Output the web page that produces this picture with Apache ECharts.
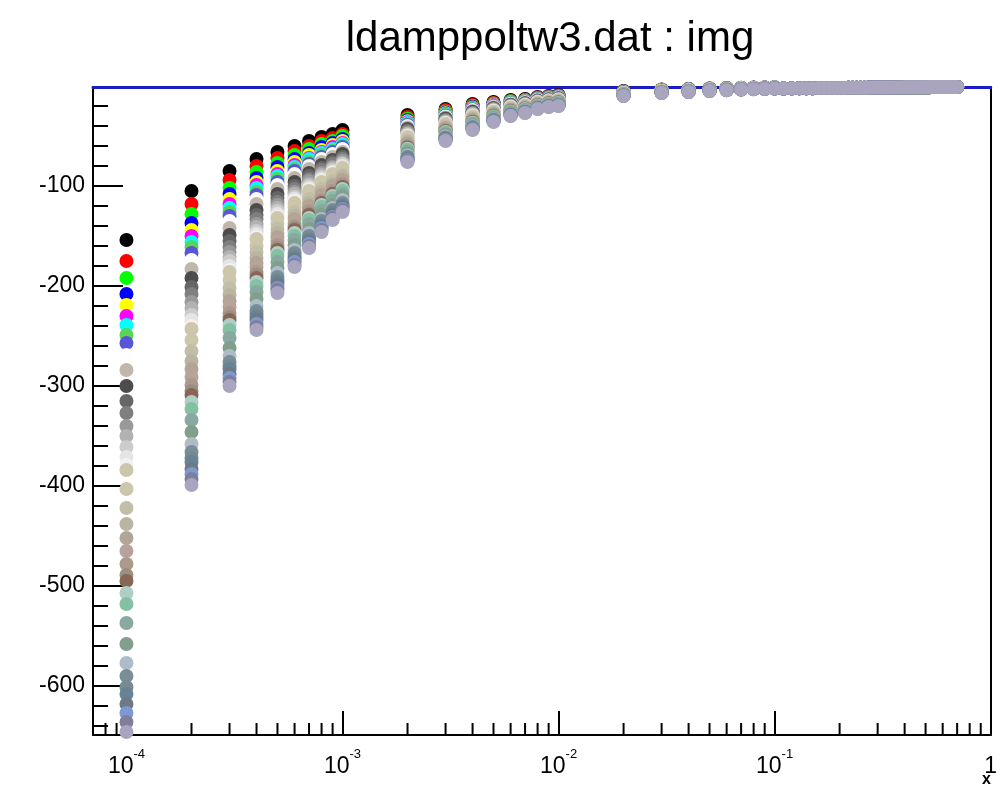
<!DOCTYPE html>
<html>
<head>
<meta charset="utf-8">
<script src="https://cdn.jsdelivr.net/npm/echarts@6/dist/echarts.min.js"></script>
<style>
  html, body { margin: 0; padding: 0; background: #fff; }
  #chart { width: 1000px; height: 796px; }
</style>
</head>
<body>
<div id="chart"></div>
<script>
// x positions of the sampled points (per-curve values below follow this order)
const xColumns = [1e-4, 2e-4, 3e-4, 4e-4, 5e-4, 6e-4, 7e-4, 8e-4, 9e-4,
  1e-3, 2e-3, 3e-3, 4e-3, 5e-3, 6e-3, 7e-3, 8e-3, 9e-3,
  1e-2, 0.02, 0.03, 0.04, 0.05, 0.06, 0.07, 0.08, 0.09, 0.1];

// img values of the 40 curves at xColumns
const s01 = [-154, -105, -85, -73, -66, -60, -55, -51, -48, -44, -29, -23, -18, -16, -14, -13, -11, -10, -9, -5, -3.5, -3, -2.5, -2, -1.8, -1.6, -1.4, -1.3];
const s02 = [-175, -118, -94, -80, -72, -65, -60, -55, -52, -48, -31, -24, -19, -17, -15, -14, -11.5, -10.5, -9.5, -5.2, -3.7, -3.1, -2.6, -2.1, -1.9, -1.7, -1.5, -1.4];
const s03 = [-192, -128, -102, -86, -77, -69, -63, -58, -55, -50, -32.7, -25.5, -20, -17.6, -15.2, -14.1, -11.9, -10.9, -9.9, -5.4, -3.8, -3.2, -2.7, -2.2, -1.9, -1.7, -1.5, -1.4];
const s04 = [-208, -137, -108, -92, -81, -73, -67, -61, -57, -53, -34.1, -26.5, -20.8, -18.2, -15.7, -14.5, -12.3, -11.2, -10.2, -5.6, -3.9, -3.3, -2.8, -2.2, -2, -1.8, -1.6, -1.4];
const s05 = [-219, -144, -113, -96, -85, -76, -69, -64, -59, -55, -35.2, -27.2, -21.4, -18.6, -16.1, -14.8, -12.6, -11.5, -10.5, -5.7, -4, -3.4, -2.8, -2.3, -2, -1.8, -1.6, -1.5];
const s06 = [-230, -150, -118, -99, -88, -79, -72, -66, -61, -57, -36.2, -27.9, -22, -19.1, -16.5, -15.2, -12.8, -11.7, -10.7, -5.8, -4, -3.5, -2.9, -2.3, -2.1, -1.8, -1.6, -1.5];
const s07 = [-239, -156, -122, -102, -90, -81, -73, -67, -63, -58, -37.1, -28.5, -22.5, -19.4, -16.8, -15.4, -13.1, -11.9, -10.9, -5.9, -4.1, -3.5, -2.9, -2.4, -2.1, -1.9, -1.7, -1.5];
const s08 = [-249, -161, -126, -106, -93, -83, -76, -69, -65, -60, -38, -29.1, -23, -19.8, -17.1, -15.7, -13.3, -12.1, -11.1, -6, -4.2, -3.6, -3, -2.4, -2.2, -1.9, -1.7, -1.6];
const s09 = [-257, -167, -130, -109, -96, -85, -78, -71, -66, -61, -38.9, -29.7, -23.5, -20.2, -17.4, -15.9, -13.5, -12.3, -11.3, -6.1, -4.2, -3.6, -3, -2.5, -2.2, -1.9, -1.7, -1.6];
const s10 = [-269, -174, -135, -113, -99, -88, -80, -73, -68, -63, -40, -30.5, -24.1, -20.7, -17.7, -16.3, -13.8, -12.6, -11.6, -6.2, -4.3, -3.7, -3.1, -2.5, -2.2, -2, -1.8, -1.6];
const s11 = [-284, -183, -142, -118, -103, -92, -83, -76, -71, -66, -41.5, -31.5, -24.9, -21.3, -18.2, -16.7, -14.2, -12.9, -11.9, -6.3, -4.4, -3.8, -3.2, -2.6, -2.3, -2, -1.8, -1.6];
const s12 = [-300, -192, -149, -124, -108, -96, -87, -79, -74, -68, -43, -32.5, -25.7, -21.9, -18.8, -17.2, -14.6, -13.3, -12.3, -6.5, -4.5, -3.9, -3.2, -2.6, -2.3, -2.1, -1.9, -1.7];
const s13 = [-315, -201, -155, -129, -112, -100, -90, -82, -76, -71, -44.4, -33.5, -26.5, -22.5, -19.2, -17.6, -14.9, -13.6, -12.6, -6.6, -4.6, -4, -3.3, -2.7, -2.4, -2.1, -1.9, -1.7];
const s14 = [-327, -208, -161, -133, -116, -103, -93, -84, -78, -73, -45.5, -34.2, -27.1, -23, -19.6, -17.9, -15.2, -13.9, -12.9, -6.8, -4.7, -4.1, -3.4, -2.8, -2.4, -2.2, -1.9, -1.8];
const s15 = [-340, -216, -166, -138, -119, -106, -95, -87, -81, -75, -46.8, -35.1, -27.8, -23.6, -20, -18.3, -15.5, -14.2, -13.2, -6.9, -4.8, -4.1, -3.5, -2.8, -2.5, -2.2, -2, -1.8];
const s16 = [-350, -222, -171, -141, -122, -108, -98, -89, -82, -77, -47.7, -35.7, -28.3, -24, -20.4, -18.6, -15.8, -14.4, -13.4, -7, -4.9, -4.2, -3.5, -2.9, -2.5, -2.2, -2, -1.8];
const s17 = [-361, -229, -175, -145, -125, -111, -100, -91, -84, -78, -48.7, -36.4, -28.9, -24.4, -20.7, -18.9, -16, -14.6, -13.6, -7.1, -5, -4.3, -3.6, -2.9, -2.6, -2.3, -2, -1.9];
const s18 = [-371, -234, -180, -148, -128, -113, -102, -93, -86, -80, -49.7, -37.1, -29.4, -24.8, -21, -19.2, -16.3, -14.8, -13.8, -7.2, -5, -4.3, -3.6, -3, -2.6, -2.3, -2.1, -1.9];
const s19 = [-379, -240, -184, -151, -131, -115, -104, -95, -87, -82, -50.5, -37.7, -29.9, -25.2, -21.3, -19.4, -16.5, -15, -14, -7.3, -5.1, -4.4, -3.7, -3, -2.6, -2.3, -2.1, -1.9];
const s20 = [-384, -243, -186, -153, -132, -117, -105, -96, -88, -82, -51, -38, -30.2, -25.4, -21.5, -19.6, -16.6, -15.1, -14.1, -7.3, -5.1, -4.4, -3.7, -3, -2.6, -2.4, -2.1, -1.9];
const s21 = [-403, -254, -194, -160, -138, -121, -109, -99, -92, -86, -52.8, -39.2, -31.2, -26.1, -22.1, -20.1, -17.1, -15.6, -14.6, -7.5, -5.3, -4.5, -3.8, -3.1, -2.7, -2.4, -2.2, -2];
const s22 = [-422, -265, -202, -166, -143, -126, -113, -103, -95, -89, -54.6, -40.4, -32.2, -26.9, -22.7, -20.6, -17.5, -16, -15, -7.7, -5.4, -4.6, -3.9, -3.2, -2.8, -2.5, -2.2, -2];
const s23 = [-438, -275, -209, -172, -147, -130, -117, -106, -98, -91, -56.1, -41.5, -33, -27.5, -23.2, -21.1, -17.9, -16.3, -15.3, -7.9, -5.5, -4.7, -3.9, -3.3, -2.8, -2.5, -2.3, -2.1];
const s24 = [-452, -283, -215, -177, -151, -133, -120, -109, -100, -94, -57.4, -42.4, -33.7, -28.1, -23.7, -21.5, -18.3, -16.7, -15.7, -8, -5.6, -4.8, -4, -3.3, -2.9, -2.6, -2.3, -2.1];
const s25 = [-465, -291, -221, -181, -155, -137, -123, -111, -102, -96, -58.8, -43.3, -34.5, -28.7, -24.1, -21.9, -18.6, -17, -16, -8.2, -5.7, -4.9, -4.1, -3.4, -2.9, -2.6, -2.4, -2.1];
const s26 = [-478, -299, -227, -186, -159, -140, -125, -114, -105, -98, -59.9, -44.1, -35.1, -29.2, -24.5, -22.2, -18.9, -17.2, -16.2, -8.3, -5.8, -5, -4.2, -3.5, -3, -2.7, -2.4, -2.2];
const s27 = [-489, -305, -231, -189, -162, -142, -128, -116, -107, -100, -61, -44.8, -35.7, -29.6, -24.9, -22.5, -19.2, -17.5, -16.5, -8.4, -5.9, -5, -4.2, -3.5, -3, -2.7, -2.4, -2.2];
const s28 = [-495, -309, -234, -192, -164, -144, -129, -117, -108, -101, -61.6, -45.2, -36, -29.9, -25.1, -22.7, -19.3, -17.6, -16.6, -8.5, -5.9, -5.1, -4.2, -3.5, -3.1, -2.7, -2.4, -2.2];
const s29 = [-507, -316, -239, -196, -167, -147, -132, -119, -110, -103, -62.7, -46, -36.7, -30.4, -25.5, -23.1, -19.6, -17.9, -16.9, -8.6, -6, -5.2, -4.3, -3.6, -3.1, -2.8, -2.5, -2.2];
const s30 = [-518, -323, -244, -200, -170, -150, -134, -121, -112, -105, -63.8, -46.7, -37.2, -30.8, -25.8, -23.4, -19.9, -18.1, -17.1, -8.7, -6.1, -5.2, -4.4, -3.6, -3.1, -2.8, -2.5, -2.3];
const s31 = [-537, -334, -252, -206, -176, -154, -138, -125, -115, -108, -65.6, -47.9, -38.2, -31.6, -26.4, -23.9, -20.3, -18.6, -17.6, -8.9, -6.2, -5.3, -4.5, -3.7, -3.2, -2.8, -2.6, -2.3];
const s32 = [-558, -346, -262, -213, -182, -159, -143, -129, -119, -111, -67.6, -49.3, -39.3, -32.4, -27.1, -24.5, -20.9, -19, -18, -9.1, -6.4, -5.5, -4.6, -3.8, -3.3, -2.9, -2.6, -2.4];
const s33 = [-577, -358, -270, -220, -187, -164, -147, -133, -122, -114, -69.4, -50.5, -40.3, -33.2, -27.7, -25, -21.3, -19.4, -18.4, -9.3, -6.5, -5.6, -4.7, -3.9, -3.4, -3, -2.7, -2.4];
const s34 = [-590, -366, -276, -225, -191, -167, -150, -135, -124, -117, -70.7, -51.4, -41.1, -33.7, -28.2, -25.4, -21.6, -19.8, -18.8, -9.4, -6.6, -5.7, -4.7, -4, -3.4, -3, -2.7, -2.5];
const s35 = [-601, -372, -280, -228, -194, -170, -152, -137, -126, -119, -71.7, -52.1, -41.6, -34.2, -28.5, -25.7, -21.9, -20, -19, -9.6, -6.7, -5.7, -4.8, -4, -3.4, -3.1, -2.8, -2.5];
const s36 = [-608, -376, -283, -231, -196, -172, -154, -139, -127, -120, -72.4, -52.5, -42, -34.5, -28.8, -25.9, -22.1, -20.2, -19.2, -9.6, -6.7, -5.8, -4.8, -4, -3.5, -3.1, -2.8, -2.5];
const s37 = [-618, -383, -288, -234, -199, -174, -156, -141, -129, -121, -73.4, -53.2, -42.5, -34.9, -29.1, -26.2, -22.3, -20.4, -19.4, -9.7, -6.8, -5.8, -4.9, -4.1, -3.5, -3.1, -2.8, -2.5];
const s38 = [-627, -388, -292, -238, -202, -176, -158, -142, -131, -123, -74.2, -53.8, -43, -35.2, -29.4, -26.5, -22.5, -20.6, -19.6, -9.8, -6.9, -5.9, -4.9, -4.1, -3.5, -3.1, -2.8, -2.6];
const s39 = [-636, -393, -296, -241, -204, -179, -160, -144, -132, -124, -75.1, -54.4, -43.5, -35.6, -29.7, -26.7, -22.8, -20.8, -19.8, -9.9, -6.9, -5.9, -5, -4.2, -3.6, -3.2, -2.9, -2.6];
const s40 = [-646, -399, -300, -244, -207, -181, -162, -146, -134, -126, -76, -55, -44, -36, -30, -27, -23, -21, -20, -10, -7, -6, -5, -4.2, -3.6, -3.2, -2.9, -2.6];

// beyond x = 0.1 all 40 curves coincide within a pixel
const tailX = [0.11, 0.12, 0.13, 0.14, 0.15, 0.16, 0.17, 0.18, 0.19, 0.20,
  0.21, 0.22, 0.23, 0.24, 0.25, 0.26, 0.27, 0.28, 0.29, 0.30,
  0.31, 0.32, 0.33, 0.34, 0.35, 0.36, 0.37, 0.38, 0.39, 0.40,
  0.41, 0.42, 0.43, 0.44, 0.45, 0.46, 0.47, 0.48, 0.49, 0.50,
  0.51, 0.52, 0.53, 0.54, 0.55, 0.56, 0.57, 0.58, 0.59, 0.60,
  0.61, 0.62, 0.63, 0.64, 0.65, 0.66, 0.67, 0.68, 0.69, 0.70];
const tailValues = [-2.5, -2.4, -2.3, -2.3, -2.2, -2.1, -2.1, -2.0, -2.0, -1.9,
  -1.9, -1.8, -1.8, -1.8, -1.7, -1.7, -1.7, -1.6, -1.6, -1.6,
  -1.5, -1.5, -1.5, -1.5, -1.4, -1.4, -1.4, -1.4, -1.4, -1.3,
  -1.3, -1.3, -1.3, -1.3, -1.3, -1.2, -1.2, -1.2, -1.2, -1.2,
  -1.2, -1.2, -1.1, -1.1, -1.1, -1.1, -1.1, -1.1, -1.1, -1.1,
  -1.1, -1.0, -1.0, -1.0, -1.0, -1.0, -1.0, -1.0, -1.0, -1.0];

// marker colours, one per curve (ROOT colour indices 1..40)
const seriesColors = ['#000000', '#ff0000', '#00ff00', '#0000ff', '#ffff00', '#ff00ff', '#00ffff', '#59d454',
  '#5954d9', '#fefefe', '#c0b6ac', '#4c4c4c', '#666666', '#7f7f7f', '#999999', '#b2b2b2',
  '#cccccc', '#e5e5e5', '#f2f2f2', '#ccc6aa', '#ccc6aa', '#c1bfa8', '#bab5a3', '#b2a596',
  '#b7a39b', '#ad998c', '#9b8e82', '#876656', '#afcec6', '#84c1a3', '#89a8a0', '#829e8c',
  '#adbcc6', '#7a8e99', '#758a91', '#688296', '#6d7a84', '#7d99d1', '#7f7f9b', '#aaa5bf'];

// minor tick positions of the logarithmic x axis
const xMinorTicks = [8e-5, 9e-5,
  2e-4, 3e-4, 4e-4, 5e-4, 6e-4, 7e-4, 8e-4, 9e-4,
  2e-3, 3e-3, 4e-3, 5e-3, 6e-3, 7e-3, 8e-3, 9e-3,
  2e-2, 3e-2, 4e-2, 5e-2, 6e-2, 7e-2, 8e-2, 9e-2,
  0.2, 0.3, 0.4, 0.5, 0.6, 0.7, 0.8, 0.9];

const allCurves = [s01, s02, s03, s04, s05, s06, s07, s08, s09, s10,
  s11, s12, s13, s14, s15, s16, s17, s18, s19, s20,
  s21, s22, s23, s24, s25, s26, s27, s28, s29, s30,
  s31, s32, s33, s34, s35, s36, s37, s38, s39, s40];

const X_MIN = 7e-5, X_MAX = 1;
const Y_MIN = -649, Y_MAX = -1;
const FONT = 'Liberation Sans, Arial, Helvetica, sans-serif';

const chart = echarts.init(document.getElementById('chart'), null, { renderer: 'canvas' });

const scatterSeries = allCurves.map((vals, i) => ({
  type: 'scatter',
  name: 'c' + (i + 1),
  symbol: 'circle',
  symbolSize: 14,
  clip: false,
  silent: true,
  itemStyle: { color: seriesColors[i], opacity: 1 },
  data: xColumns.map((x, j) => [x, vals[j]]).concat(tailX.map((x, j) => [x, tailValues[j]]))
}));

// short upward ticks at 2..9 of every decade
const minorTickSeries = {
  type: 'custom',
  silent: true,
  z: 1,
  data: xMinorTicks.map(x => [x, Y_MIN]),
  renderItem: function (params, api) {
    const p = api.coord([api.value(0), api.value(1)]);
    return {
      type: 'line',
      shape: { x1: p[0], y1: p[1], x2: p[0], y2: p[1] - 12 },
      style: { stroke: '#000', lineWidth: 2 }
    };
  }
};

function decadeLabel(v) {
  const lg = Math.log10(v);
  const e = Math.round(lg);
  if (Math.abs(lg - e) > 1e-6) return '';
  if (e === 0) return '{b|1}';
  return '{b|10}{s|' + e + '}';
}

chart.setOption({
  animation: false,
  backgroundColor: '#ffffff',
  title: {
    text: 'ldamppoltw3.dat : img',
    left: 545,
    top: 13,
    textAlign: 'center',
    textStyle: { fontFamily: FONT, fontSize: 42, fontWeight: 'normal', color: '#000' }
  },
  graphic: [{
    type: 'text',
    left: 982,
    top: 772,
    style: { text: 'x', fontFamily: FONT, fontSize: 16, fontWeight: 'bold', fill: '#000' }
  }],
  grid: { left: 93, right: 3, top: 87, bottom: 61, containLabel: false },
  xAxis: [{
    type: 'log',
    logBase: 10,
    min: X_MIN,
    max: X_MAX,
    position: 'bottom',
    axisLine: { onZero: false, lineStyle: { color: '#000', width: 2 } },
    axisTick: { inside: true, length: 24, lineStyle: { color: '#000', width: 2 } },
    minorTick: { show: false },
    splitLine: { show: false },
    axisLabel: {
      margin: 13,
      formatter: decadeLabel,
      rich: {
        b: { fontFamily: FONT, fontSize: 23, color: '#000', lineHeight: 30, verticalAlign: 'bottom' },
        s: { fontFamily: FONT, fontSize: 13, color: '#000', lineHeight: 30, verticalAlign: 'top' }
      }
    }
  }, {
    // blue upper frame edge: above the left axis ticks, below the markers
    type: 'log',
    logBase: 10,
    min: X_MIN,
    max: X_MAX,
    position: 'top',
    z: 1,
    axisLine: { onZero: false, lineStyle: { color: '#1c1cc4', width: 3 } },
    axisTick: { show: false },
    axisLabel: { show: false },
    splitLine: { show: false }
  }],
  yAxis: [{
    type: 'value',
    min: Y_MIN,
    max: Y_MAX,
    position: 'left',
    axisLine: { show: true, onZero: false, lineStyle: { color: '#000', width: 2 } },
    axisTick: { show: true, inside: true, length: 30, lineStyle: { color: '#000', width: 2 } },
    minorTick: { show: true, splitNumber: 5, length: 15, lineStyle: { color: '#000', width: 2 } },
    splitLine: { show: false },
    axisLabel: {
      margin: 8,
      fontFamily: FONT,
      fontSize: 23,
      color: '#000',
      formatter: function (v) { return (v % 100 === 0 && v !== 0) ? String(v) : ''; }
    }
  }, {
    type: 'value',
    min: Y_MIN,
    max: Y_MAX,
    position: 'right',
    axisLine: { show: true, onZero: false, lineStyle: { color: '#000', width: 2 } },
    axisTick: { show: false },
    axisLabel: { show: false },
    splitLine: { show: false }
  }],
  series: [minorTickSeries].concat(scatterSeries)
});
</script>
</body>
</html>
